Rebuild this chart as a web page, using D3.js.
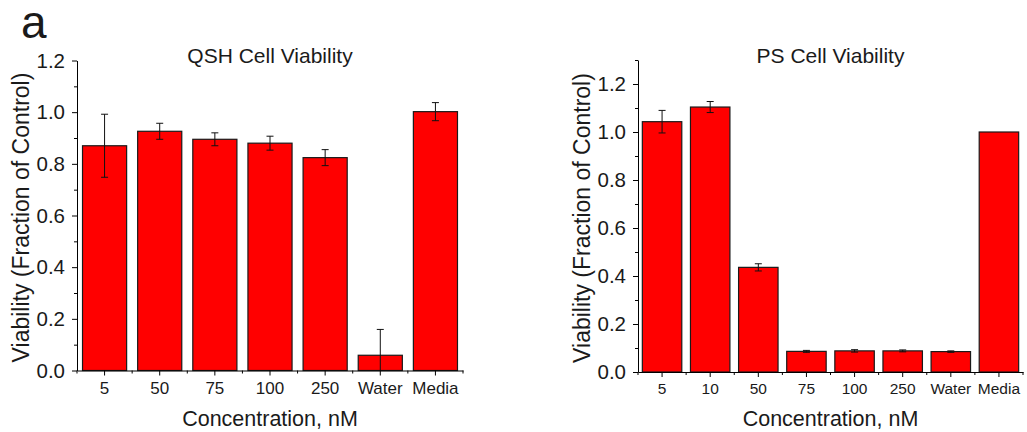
<!DOCTYPE html>
<html lang="en">
<head>
    <meta charset="UTF-8">
    <title>Cell Viability</title>
    <script src="https://d3js.org/d3.v7.min.js"></script>
    <style>
        body { margin: 0; background: #fff; }
        text { font-family: Arial, "Liberation Sans", sans-serif; fill: #1a1a1a; }
    </style>
</head>
<body>
<script>
    // data
    var qshLabels = ['5', '50', '75', '100', '250', 'Water', 'Media'];
    var qshValues = [0.870, 0.926, 0.895, 0.880, 0.824, 0.059, 1.002];
    var qshErrors = [0.122, 0.031, 0.025, 0.027, 0.031, 0.100, 0.035];

    var psLabels = ['5', '10', '50', '75', '100', '250', 'Water', 'Media'];
    var psValues = [1.043, 1.104, 0.436, 0.086, 0.088, 0.088, 0.085, 1.000];
    var psErrors = [0.047, 0.023, 0.015, 0.004, 0.005, 0.004, 0.003, 0];

    var yMajorTicks = [0, 0.2, 0.4, 0.6, 0.8, 1.0, 1.2];
    var yMinorTicks = [0.1, 0.3, 0.5, 0.7, 0.9, 1.1, 1.3];

    var width = 1027, height = 432;

    var svg = d3.select('body').append('svg')
            .attr('width', width)
            .attr('height', height);

    // panel letter
    svg.append('text')
            .attr('x', 21).attr('y', 38)
            .attr('font-size', '46px')
            .text('a');

    function drawPanel(opt) {
        var g = svg.append('g');

        var x = d3.scaleBand()
                .domain(opt.labels)
                .range([opt.left, opt.right])
                .paddingInner(opt.pad)
                .paddingOuter(opt.pad / 2);
        var y = d3.scaleLinear()
                .domain([0, opt.yMax])
                .range([opt.bottom, opt.top]);

        // bars
        g.selectAll('rect.bar')
                .data(opt.values)
                .enter().append('rect')
                .attr('class', 'bar')
                .attr('x', function(d, i) { return x(opt.labels[i]); })
                .attr('y', function(d) { return y(d); })
                .attr('width', x.bandwidth())
                .attr('height', function(d) { return y(0) - y(d); })
                .attr('fill', '#ff0000')
                .attr('stroke', '#1a1a1a')
                .attr('stroke-width', 1.2);

        // error bars
        var err = g.selectAll('g.err')
                .data(opt.values)
                .enter().append('g')
                .attr('class', 'err')
                .attr('stroke', '#111')
                .attr('stroke-width', 1);
        var cx = function(i) { return x(opt.labels[i]) + x.bandwidth() / 2; };
        var hi = function(d, i) { return y(d + opt.errors[i]); };
        var lo = function(d, i) { return y(Math.max(0, d - opt.errors[i])); };
        err.filter(function(d, i) { return opt.errors[i] > 0; })
                .each(function(d, i) {
                    var s = d3.select(this);
                    var c = cx(i);
                    s.append('line').attr('x1', c).attr('x2', c).attr('y1', hi(d, i)).attr('y2', lo(d, i));
                    s.append('line').attr('x1', c - 3.5).attr('x2', c + 3.5).attr('y1', hi(d, i)).attr('y2', hi(d, i));
                    if (d - opt.errors[i] > 0)
                        s.append('line').attr('x1', c - 3.5).attr('x2', c + 3.5).attr('y1', lo(d, i)).attr('y2', lo(d, i));
                });

        // y axis
        var yAxis = g.append('g')
                .attr('transform', 'translate(' + opt.left + ',0)')
                .call(d3.axisLeft(y).tickValues(yMajorTicks).tickSize(5).tickSizeOuter(0)
                        .tickPadding(7).tickFormat(d3.format('.1f')));
        yAxis.selectAll('text').attr('font-size', '20.5px').attr('font-family', null);
        g.append('g')
                .attr('transform', 'translate(' + opt.left + ',0)')
                .call(d3.axisLeft(y).tickValues(yMinorTicks.filter(function(v) { return v <= opt.yMax + 1e-6; }))
                        .tickSize(3).tickSizeOuter(0).tickFormat(''))
                .select('.domain').remove();

        // x axis
        var xAxis = g.append('g')
                .attr('transform', 'translate(0,' + opt.bottom + ')')
                .call(d3.axisBottom(x).tickSize(5).tickSizeOuter(0).tickPadding(6));
        xAxis.selectAll('text').attr('font-size', opt.xFont).attr('font-family', null);
        // minor ticks at band boundaries
        var bounds = d3.range(opt.labels.length + 1).map(function(i) { return x.range()[0] + i * x.step(); });
        g.selectAll('line.minor')
                .data(bounds)
                .enter().append('line')
                .attr('class', 'minor')
                .attr('x1', function(d) { return d; }).attr('x2', function(d) { return d; })
                .attr('y1', opt.bottom).attr('y2', opt.bottom + 3)
                .attr('stroke', '#000');

        g.selectAll('.domain, .tick line').attr('stroke', '#000');

        // title
        g.append('text')
                .attr('x', (opt.left + opt.right) / 2).attr('y', 63)
                .attr('text-anchor', 'middle')
                .attr('font-size', '21px')
                .text(opt.title);

        // axis labels
        g.append('text')
                .attr('x', (opt.left + opt.right) / 2).attr('y', 426)
                .attr('text-anchor', 'middle')
                .attr('font-size', '21.5px')
                .text('Concentration, nM');
        g.append('text')
                .attr('transform', 'translate(' + (opt.left - 48) + ',' + ((opt.top + opt.bottom) / 2 + 2) + ') rotate(-90)')
                .attr('text-anchor', 'middle')
                .attr('font-size', '23px')
                .text('Viability (Fraction of Control)');
    }

    drawPanel({
        labels: qshLabels, values: qshValues, errors: qshErrors,
        left: 77, right: 463, top: 60.5, bottom: 370.5, yMax: 1.2,
        pad: 0.2, xFont: '17px', title: 'QSH Cell Viability'
    });

    drawPanel({
        labels: psLabels, values: psValues, errors: psErrors,
        left: 638, right: 1023, top: 60, bottom: 372, yMax: 1.3,
        pad: 0.18, xFont: '15.5px', title: 'PS Cell Viability'
    });
</script>
</body>
</html>
